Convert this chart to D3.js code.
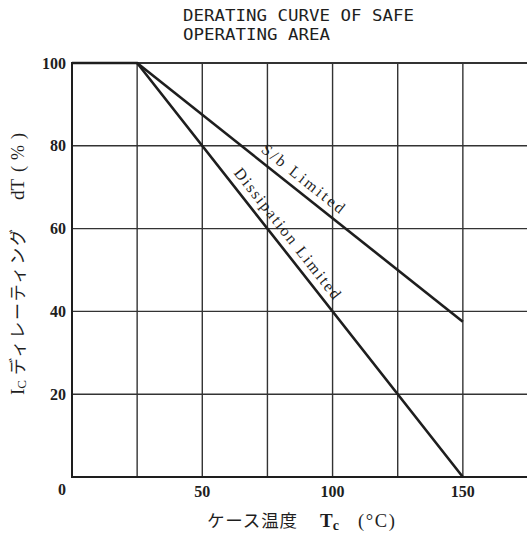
<!DOCTYPE html>
<html><head><meta charset="utf-8">
<script src="https://cdn.jsdelivr.net/npm/d3@7"></script>
<style>body{margin:0;background:#fff}svg{display:block}</style>
</head><body>
<svg id="c" width="527" height="535"></svg>
<script>
// ---- data ----
const titleLines = ["DERATING CURVE OF SAFE", "OPERATING AREA"];
const xTickLabels = [50, 100, 150];
const yTickLabels = [20, 40, 60, 80, 100];
const xGrid = [25, 50, 75, 100, 125, 150, 175];
const yGrid = [20, 40, 60, 80, 100];
const dissipationTc = [0, 25, 150];
const dissipationIc = [100, 100, 0];
const sbTc = [25, 150];
const sbIc = [100, 37.5];
const curveLabels = ["S/b Limited", "Dissipation Limited"];

const svg = d3.select("#c");
const x = d3.scaleLinear().domain([0, 175]).range([72, 528]);
const y = d3.scaleLinear().domain([0, 100]).range([477, 63]);
const ink = "#1e1e1e";

// title
svg.append("g").selectAll("text").data(titleLines).join("text")
  .attr("x", 183).attr("y", (d, i) => 21 + i * 18.5)
  .attr("font-family", "DejaVu Sans Mono").attr("font-size", 15)
  .attr("textLength", d => d.length * 10.5).attr("lengthAdjust", "spacingAndGlyphs")
  .attr("fill", ink).text(d => d);

// grid
const g = svg.append("g");
g.selectAll("line.v").data(xGrid).join("line")
  .attr("x1", d => x(d)).attr("x2", d => x(d))
  .attr("y1", y(0)).attr("y2", y(100))
  .attr("stroke", "#333").attr("stroke-width", 1.4);
g.selectAll("line.h").data(yGrid).join("line")
  .attr("x1", x(0)).attr("x2", x(175))
  .attr("y1", d => y(d)).attr("y2", d => y(d))
  .attr("stroke", "#333").attr("stroke-width", d => d === 100 ? 2 : 1.4);
// frame left & bottom
g.append("line").attr("x1", x(0)).attr("x2", x(0)).attr("y1", y(0) + 1).attr("y2", y(100) - 1)
  .attr("stroke", ink).attr("stroke-width", 2);
g.append("line").attr("x1", x(0)).attr("x2", x(175)).attr("y1", y(0)).attr("y2", y(0))
  .attr("stroke", ink).attr("stroke-width", 2);

// tick labels
const tickFont = "Liberation Serif";
svg.append("g").selectAll("text").data(yTickLabels).join("text")
  .attr("x", 66).attr("y", d => y(d) + 5.5).attr("text-anchor", "end")
  .attr("font-family", tickFont).attr("font-weight", "bold").attr("font-size", 16)
  .attr("fill", ink).text(d => d);
svg.append("g").selectAll("text").data(xTickLabels).join("text")
  .attr("x", d => x(d)).attr("y", 497).attr("text-anchor", "middle")
  .attr("font-family", tickFont).attr("font-weight", "bold").attr("font-size", 16)
  .attr("fill", ink).text(d => d);
svg.append("text").attr("x", 62).attr("y", 495).attr("text-anchor", "middle")
  .attr("font-family", tickFont).attr("font-weight", "bold").attr("font-size", 16)
  .attr("fill", ink).text(0);

// curves
const line = d3.line().x(d => x(d[0])).y(d => y(d[1]));
svg.append("path").datum(dissipationTc.map((t, i) => [t, dissipationIc[i]]))
  .attr("d", line).attr("fill", "none").attr("stroke", ink).attr("stroke-width", 2.6);
svg.append("path").datum(sbTc.map((t, i) => [t, sbIc[i]]))
  .attr("d", line).attr("fill", "none").attr("stroke", ink).attr("stroke-width", 2.6);

// curve labels along lines
function placeLabel(txt, t0, t1, v0, v1, tStart, len, off) {
  const px0 = x(t0), py0 = y(v0), px1 = x(t1), py1 = y(v1);
  const ang = Math.atan2(py1 - py0, px1 - px0);
  const f = (tStart - t0) / (t1 - t0);
  const px = px0 + f * (px1 - px0), py = py0 + f * (py1 - py0);
  const bx = px + off * Math.sin(ang), by = py - off * Math.cos(ang);
  svg.append("text")
    .attr("transform", `translate(${bx},${by}) rotate(${ang * 180 / Math.PI})`)
    .attr("font-family", "Liberation Serif").attr("font-size", 16)
    .attr("textLength", len).attr("lengthAdjust", "spacing")
    .attr("fill", ink).text(txt);
}
placeLabel(curveLabels[0], sbTc[0], sbTc[1], sbIc[0], sbIc[1], 70.5, 101, 7.5);
placeLabel(curveLabels[1], dissipationTc[1], dissipationTc[2], dissipationIc[1], dissipationIc[2], 59.6, 162, 7.5);

// x axis title
const xt = svg.append("text").attr("y", 527).attr("fill", ink);
xt.append("tspan").attr("x", 207).attr("font-family", "Noto Sans CJK JP").attr("font-size", 17.5)
  .attr("textLength", 90).attr("lengthAdjust", "spacing").text("ケース温度");
xt.append("tspan").attr("x", 320).attr("font-family", "Liberation Serif").attr("font-weight", "bold")
  .attr("font-size", 19).text("T");
xt.append("tspan").attr("font-family", "Liberation Serif").attr("font-weight", "bold")
  .attr("font-size", 14).attr("dy", 3).text("c");
xt.append("tspan").attr("x", 358).attr("dy", -3).attr("font-family", "Liberation Serif")
  .attr("font-size", 18.5).attr("textLength", 37).attr("lengthAdjust", "spacing").text("(°C)");

// y axis title (rotated)
const yt = svg.append("text").attr("transform", "translate(24,395) rotate(-90)").attr("fill", ink);
yt.append("tspan").attr("x", 0).attr("font-family", "Liberation Serif").attr("font-size", 19).text("I");
yt.append("tspan").attr("font-family", "Liberation Serif").attr("font-size", 13).attr("dy", 2).text("C");
yt.append("tspan").attr("x", 20).attr("dy", -2).attr("font-family", "Noto Sans CJK JP").attr("font-size", 17)
  .attr("textLength", 146).attr("lengthAdjust", "spacing").text("ディレーティング");
yt.append("tspan").attr("x", 195).attr("font-family", "Liberation Serif")
  .attr("font-size", 19).text("dT");
yt.append("tspan").attr("x", 223).attr("font-family", "Liberation Serif").attr("font-size", 18)
  .attr("textLength", 39).attr("lengthAdjust", "spacing").text("(%)");
</script>
</body></html>
